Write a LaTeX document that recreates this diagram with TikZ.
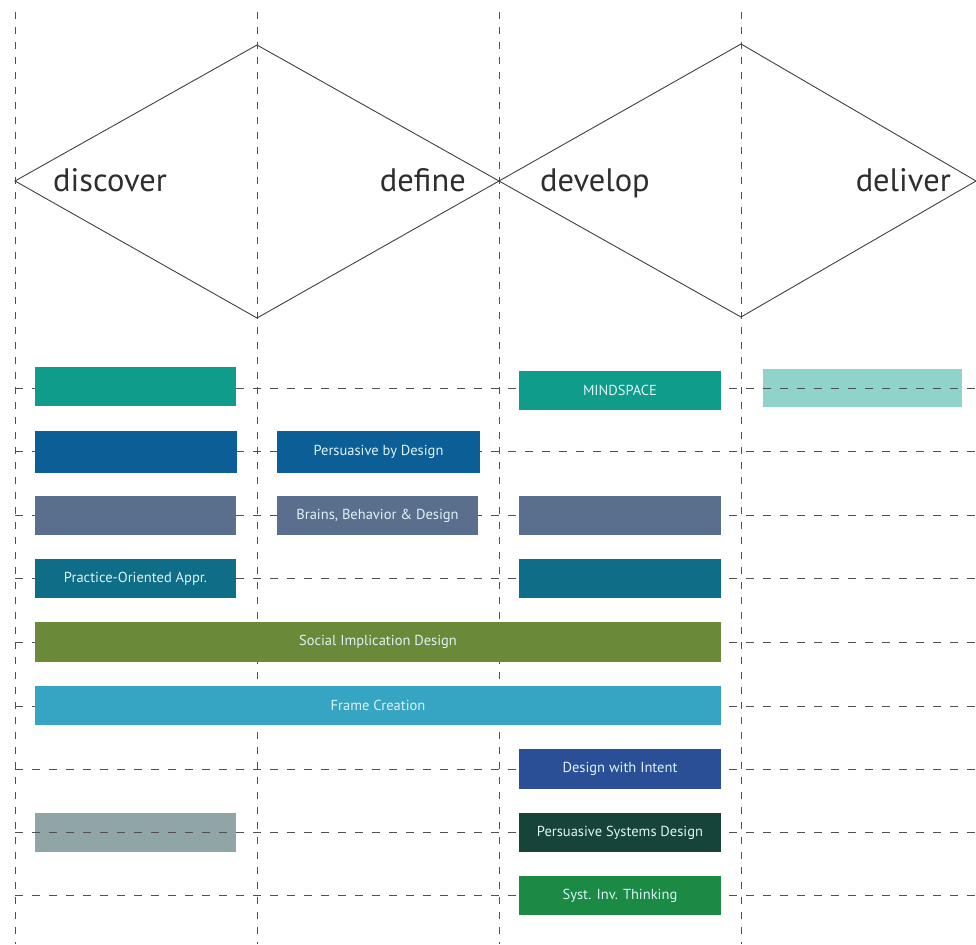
\documentclass[tikz,border=0pt]{standalone}
\usepackage{fontspec}
\setmainfont{PT Sans}
\definecolor{cTeal}{HTML}{0F9C8A}
\definecolor{cLight}{HTML}{8FD3CB}
\definecolor{cBlue}{HTML}{0B5E96}
\definecolor{cSlate}{HTML}{5A6E8E}
\definecolor{cDTeal}{HTML}{0E6E87}
\definecolor{cGreen}{HTML}{6A8A3A}
\definecolor{cCyan}{HTML}{36A4C3}
\definecolor{cNavy}{HTML}{2A4F96}
\definecolor{cDGreen}{HTML}{16433A}
\definecolor{cGreenB}{HTML}{1A8A45}
\definecolor{cGrey}{HTML}{90A6A6}
\definecolor{cText}{HTML}{DDF3F6}
\definecolor{cGuide}{HTML}{505050}
\begin{document}
\begin{tikzpicture}[x=1pt,y=-1pt,
  vguide/.style={draw=cGuide, dash pattern=on 7pt off 8pt, line width=1pt},
  hguide/.style={draw=cGuide, dash pattern=on 8pt off 9pt, line width=1pt},
  bar/.style={rectangle, inner sep=0pt, text=cText, font=\fontsize{14.5}{16}\selectfont},
  phase/.style={font=\fontsize{32.5}{38}\selectfont, text=black!82, inner sep=0pt},
  dia/.style={draw=black!75, line width=0.9pt}]
\useasboundingbox (0,0) rectangle (976,944);
% translucent bars drawn under the guides
\node[bar, fill=cLight, minimum width=199pt, minimum height=38pt] (light) at (862.5,388) {};
\node[bar, fill=cGrey, minimum width=201pt, minimum height=39pt] (grey) at (135.5,832.5) {};
% vertical guides
\foreach \x/\n in {15/va,257/vb,499/vc,741/vd}{
  \coordinate (\n t) at (\x,12);
  \coordinate (\n b) at (\x,944);
  \draw[vguide] (\n t) -- (\n b);
}
% horizontal guides
\foreach \y [count=\i] in {388,451,515,578,642,706,769,832,895}{
  \coordinate (h\i l) at (15,\y);
  \coordinate (h\i r) at (976,\y);
  \draw[hguide] (h\i l) -- (h\i r);
}
% diamonds
\coordinate (d1l) at (15,181);
\coordinate (d1t) at (257,45);
\coordinate (d1r) at (499,181);
\coordinate (d1b) at (257,318);
\coordinate (d2t) at (741,44);
\coordinate (d2r) at (976,181);
\coordinate (d2b) at (741,317);
\draw[dia] (d1l) -- (d1t) -- (d1r) -- (d1b) -- cycle;
\draw[dia] (d1r) -- (d2t) -- (d2r) -- (d2b) -- cycle;
\node[phase, anchor=base west] (discover) at (53,191) {discover};
\node[phase, anchor=base east] (define) at (466,191) {define};
\node[phase, anchor=base west] (develop) at (540,191) {develop};
\node[phase, anchor=base east] (deliver) at (951,191) {deliver};
% bars
\node[bar, fill=cTeal, minimum width=201pt, minimum height=39pt] (r1a) at (135.5,386.5) {};
\node[bar, fill=cTeal, minimum width=202pt, minimum height=39pt] (mind) at (620,390.5) {MINDSPACE};
\node[bar, fill=cBlue, minimum width=202pt, minimum height=42pt] (r2a) at (136,452) {};
\node[bar, fill=cBlue, minimum width=203pt, minimum height=42pt] (pbd) at (378.5,452) {Persuasive by Design};
\node[bar, fill=cSlate, minimum width=201pt, minimum height=39pt] (r3a) at (135.5,515.5) {};
\node[bar, fill=cSlate, minimum width=201pt, minimum height=39pt] (bbd) at (377.5,515.5) {Brains, Behavior \& Design};
\node[bar, fill=cSlate, minimum width=202pt, minimum height=39pt] (r3c) at (620,515.5) {};
\node[bar, fill=cDTeal, minimum width=201pt, minimum height=39pt] (poa) at (135.5,578.5) {Practice-Oriented Appr.};
\node[bar, fill=cDTeal, minimum width=202pt, minimum height=39pt] (r4c) at (620,578.5) {};
\node[bar, fill=cGreen, minimum width=686pt, minimum height=40pt] (sid) at (378,642) {Social Implication Design};
\node[bar, fill=cCyan, minimum width=686pt, minimum height=39pt] (fc) at (378,705.5) {Frame Creation};
\node[bar, fill=cNavy, minimum width=202pt, minimum height=40pt] (dwi) at (620,769) {Design with Intent};
\node[bar, fill=cDGreen, minimum width=202pt, minimum height=39pt] (psd) at (620,832.5) {Persuasive Systems Design};
\node[bar, fill=cGreenB, minimum width=202pt, minimum height=39pt] (sit) at (620,895.5) {Syst. Inv. Thinking};
\end{tikzpicture}
\end{document}
